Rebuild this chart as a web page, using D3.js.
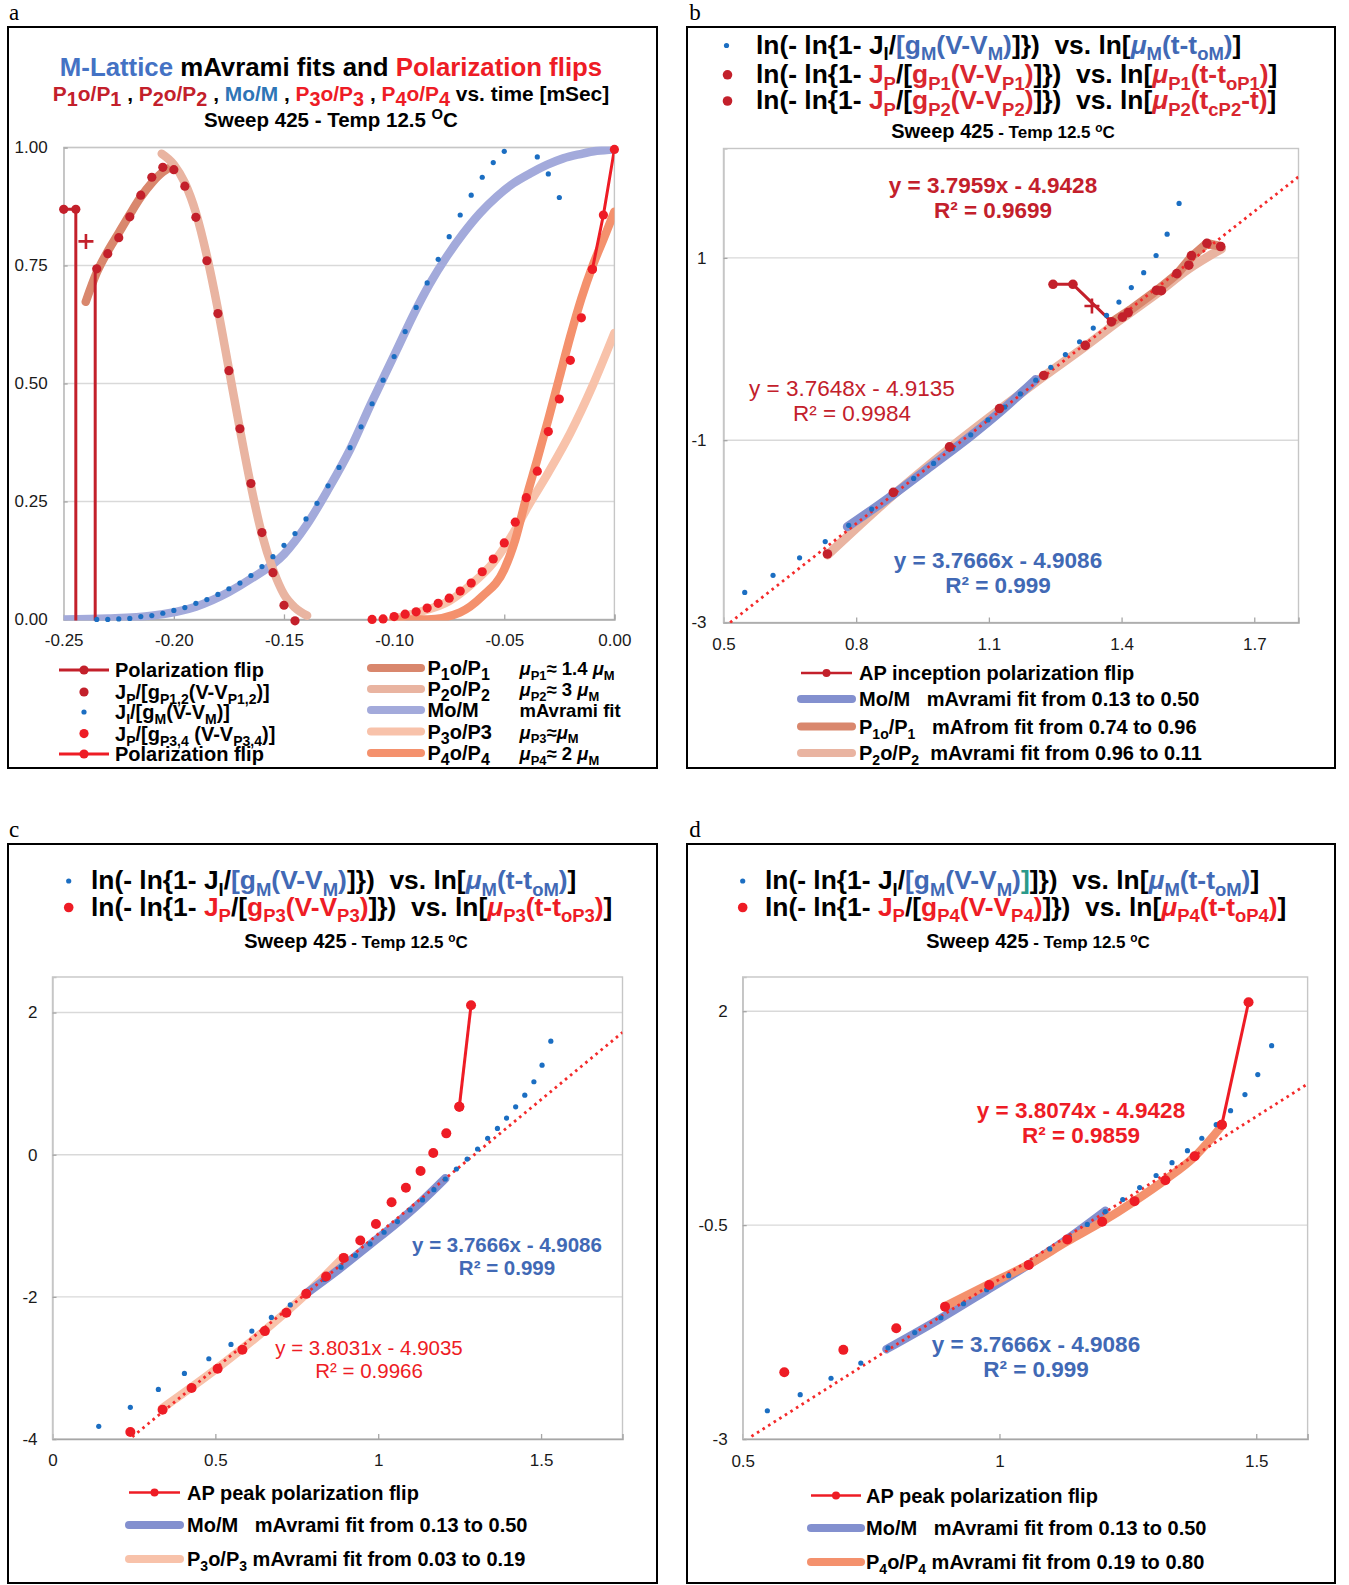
<!DOCTYPE html>
<html><head><meta charset="utf-8">
<script src="https://cdn.jsdelivr.net/npm/d3@7"></script>
<style>body{margin:0;background:#fff}</style>
</head><body>
<script>
// ---------------- DATA ----------------
// Panel a : fraction vs time [mSec]
const aXTicks = [-0.25,-0.20,-0.15,-0.10,-0.05,0.00];
const aXLabels = ['-0.25','-0.20','-0.15','-0.10','-0.05','0.00'];
const aYTicks = [0,0.25,0.5,0.75,1];
const aYLabels = ['0.00','0.25','0.50','0.75','1.00'];
const aBlueDots = [[-0.235,0.000],[-0.230,0.000],[-0.225,0.001],[-0.220,0.002],[-0.215,0.006],[-0.210,0.008],[-0.205,0.013],[-0.200,0.019],[-0.195,0.025],[-0.190,0.034],[-0.185,0.042],[-0.180,0.053],[-0.175,0.065],[-0.170,0.077],[-0.165,0.093],[-0.160,0.112],[-0.155,0.133],[-0.150,0.157],[-0.145,0.182],[-0.140,0.213],[-0.135,0.246],[-0.130,0.283],[-0.125,0.322],[-0.120,0.364],[-0.115,0.408],[-0.110,0.457],[-0.105,0.507],[-0.100,0.557],[-0.095,0.610],[-0.090,0.661],[-0.085,0.713],[-0.080,0.763],[-0.075,0.811],[-0.070,0.857],[-0.065,0.899],[-0.060,0.937],[-0.055,0.968],[-0.050,0.992],[-0.035,0.980],[-0.030,0.944],[-0.025,0.894]];
const aMoFit = [[-0.25,0.000],[-0.23,0.002],[-0.21,0.008],[-0.19,0.027],[-0.175,0.058],[-0.165,0.086],[-0.15,0.138],[-0.14,0.198],[-0.13,0.275],[-0.12,0.360],[-0.11,0.462],[-0.1064,0.497],[-0.0988,0.571],[-0.0913,0.645],[-0.0837,0.712],[-0.0761,0.769],[-0.0686,0.818],[-0.061,0.861],[-0.0534,0.896],[-0.0459,0.924],[-0.0383,0.945],[-0.0307,0.963],[-0.0232,0.977],[-0.0155,0.986],[-0.008,0.993],[0.000,0.996]];
const aP12Dots = [[-0.235,0.743],[-0.230,0.775],[-0.225,0.809],[-0.220,0.853],[-0.215,0.899],[-0.210,0.937],[-0.205,0.958],[-0.200,0.953],[-0.195,0.918],[-0.190,0.852],[-0.185,0.760],[-0.180,0.648],[-0.175,0.527],[-0.170,0.404],[-0.165,0.288],[-0.160,0.184],[-0.155,0.099],[-0.150,0.030],[-0.145,-0.003]];
const aP1Fit = [[-0.240,0.673],[-0.235,0.735],[-0.230,0.780],[-0.225,0.819],[-0.220,0.858],[-0.215,0.895],[-0.210,0.925],[-0.205,0.948],[-0.200,0.962]];
const aP2Fit = [[-0.2055,0.987],[-0.200,0.964],[-0.195,0.925],[-0.190,0.862],[-0.185,0.770],[-0.180,0.657],[-0.175,0.530],[-0.170,0.403],[-0.165,0.283],[-0.160,0.180],[-0.155,0.106],[-0.150,0.053],[-0.145,0.025],[-0.1395,0.008]];
const aP34Dots = [[-0.110,0.000],[-0.105,0.001],[-0.100,0.006],[-0.095,0.011],[-0.090,0.016],[-0.085,0.024],[-0.080,0.034],[-0.075,0.045],[-0.070,0.060],[-0.065,0.077],[-0.060,0.101],[-0.055,0.128],[-0.050,0.162],[-0.045,0.206],[-0.040,0.258],[-0.035,0.314],[-0.030,0.398],[-0.025,0.467],[-0.020,0.549],[-0.015,0.639],[-0.010,0.742]];
const aP3Fit = [[-0.1005,0.000],[-0.090,0.014],[-0.075,0.039],[-0.065,0.074],[-0.055,0.120],[-0.045,0.190],[-0.040,0.233],[-0.030,0.311],[-0.020,0.395],[-0.010,0.494],[0.000,0.607]];
const aP4Fit = [[-0.1005,0.000],[-0.085,0.000],[-0.070,0.015],[-0.060,0.049],[-0.050,0.106],[-0.045,0.169],[-0.040,0.258],[-0.035,0.339],[-0.030,0.424],[-0.025,0.512],[-0.020,0.600],[-0.015,0.680],[-0.010,0.748],[-0.005,0.805],[0.000,0.864]];
const aFlipLeft = [[-0.2500,0.869],[-0.2445,0.869],[-0.2445,-0.01]];
const aFlipLeftMarks = [[-0.2500,0.869],[-0.2445,0.869]];
const aFlipLeft2 = [[-0.2357,-0.01],[-0.2357,0.743]];
const aFlipRight = [[-0.010,0.742],[-0.005,0.857],[0.000,0.996]];
const aPlus = [[-0.2399,0.801]];

// Panels b,c,d : ln(-ln(1-X)) vs ln[mu(t-t0)]
const linBlueDots = [[0.142,-3.822],[0.239,-3.555],[0.325,-3.302],[0.405,-3.077],[0.480,-2.871],[0.548,-2.670],[0.612,-2.482],[0.672,-2.290],[0.730,-2.112],[0.783,-1.934],[0.835,-1.756],[0.886,-1.583],[0.930,-1.419],[0.975,-1.255],[1.018,-1.091],[1.059,-0.941],[1.098,-0.778],[1.136,-0.637],[1.171,-0.492],[1.206,-0.342],[1.240,-0.201],[1.273,-0.061],[1.305,0.080],[1.336,0.230],[1.366,0.370],[1.394,0.515],[1.422,0.674],[1.450,0.838],[1.478,1.026],[1.503,1.260],[1.530,1.597]];
const linMoFit = [[0.780,-1.950],[0.880,-1.610],[0.976,-1.260],[1.060,-0.950],[1.130,-0.670],[1.206,-0.333]];

const bXTicks = [0.5,0.8,1.1,1.4,1.7];
const bXLabels = ['0.5','0.8','1.1','1.4','1.7'];
const bYTicks = [-3,-1,1];
const bYLabels = ['-3','-1','1'];
const bP12Dots = [[0.735,-2.248],[0.884,-1.573],[1.011,-1.073],[1.124,-0.653],[1.224,-0.290],[1.318,0.040],[1.377,0.300],[1.402,0.350],[1.415,0.400],[1.479,0.645],[1.490,0.640],[1.525,0.827],[1.552,0.920],[1.558,1.025],[1.593,1.160],[1.624,1.125]];
const bP2Fit = [[0.735,-2.260],[0.884,-1.600],[1.011,-1.090],[1.124,-0.665],[1.224,-0.300],[1.318,0.030],[1.400,0.330],[1.480,0.610],[1.552,0.880],[1.626,1.100]];
const bP1Fit = [[1.377,0.290],[1.420,0.430],[1.479,0.640],[1.525,0.820],[1.558,1.010],[1.593,1.160],[1.624,1.125]];
const bFlip = [[1.245,0.710],[1.290,0.710],[1.377,0.300]];
const bFlipMarks = [[1.245,0.710],[1.290,0.710]];
const bPlus = [[1.333,0.472]];
const bTrend = [[0.515,-3.000],[1.800,1.890]];

const cXTicks = [0,0.5,1,1.5];
const cXLabels = ['0','0.5','1','1.5'];
const cYTicks = [-4,-2,0,2];
const cYLabels = ['-4','-2','0','2'];
const cP3Dots = [[0.239,-3.902],[0.338,-3.588],[0.427,-3.283],[0.507,-3.012],[0.583,-2.745],[0.652,-2.482],[0.718,-2.225],[0.779,-1.958],[0.840,-1.714],[0.894,-1.452],[0.945,-1.208],[0.993,-0.974],[1.041,-0.670],[1.085,-0.464],[1.130,-0.230],[1.169,0.023],[1.209,0.300],[1.249,0.674]];
const cP3Fit = [[0.336,-3.570],[0.507,-3.000],[0.652,-2.470],[0.779,-1.960],[0.894,-1.440]];
const cFlip = [[1.249,0.674],[1.285,2.103]];
const cTrend = [[0.245,-3.970],[1.750,1.720]];

const dXTicks = [0.5,1,1.5];
const dXLabels = ['0.5','1','1.5'];
const dYTicks = [-3,-0.5,2];
const dYLabels = ['-3','-0.5','2'];
const dP4Dots = [[0.581,-2.219],[0.696,-1.958],[0.799,-1.705],[0.894,-1.453],[0.980,-1.200],[1.057,-0.967],[1.132,-0.667],[1.200,-0.461],[1.263,-0.220],[1.323,0.025],[1.380,0.305],[1.433,0.674]];
const dP4Fit = [[0.894,-1.450],[0.980,-1.190],[1.057,-0.960],[1.132,-0.690],[1.200,-0.460],[1.263,-0.220],[1.323,0.030],[1.380,0.300],[1.433,0.660]];
const dFlip = [[1.433,0.674],[1.485,2.105]];
const dTrend = [[0.517,-2.970],[1.600,1.150]];

// ---------------- STYLE ----------------
const FONT = "'Liberation Sans', Arial, Helvetica, sans-serif";
const DR = '#c3202b', BR = '#ee1c25', BD = '#1b6ec2', TB = '#4169b5';
const C_MO_A = '#a3aadb', C_MO = '#8390cf', C_P1 = '#d9876d', C_P2 = '#e9b4a1', C_P3 = '#f8c2aa', C_P4 = '#f4916d';

const W = 1349, H = 1585;
const svg = d3.select('body').append('svg').attr('width', W).attr('height', H).style('display','block');
svg.append('rect').attr('width', W).attr('height', H).attr('fill', '#fff');

function rich(parent, x, y, segs, o) {
  const size = o.size;
  const t = parent.append('text').attr('x', x).attr('y', y)
    .attr('font-family', FONT).attr('font-size', size)
    .attr('font-weight', o.bold === false ? 'normal' : 'bold')
    .attr('text-anchor', o.anchor || 'start').attr('fill', o.color || '#000')
    .style('white-space', 'pre');
  let off = 0;
  segs.forEach(s => {
    if (typeof s === 'string') s = {t: s};
    const base = s.size || size;
    let target = 0, fs = base;
    if (s.sub) { target = base * 0.26; fs = base * (s.k || 0.7); }
    if (s.sup) { target = -base * 0.38; fs = base * (s.k || 0.62); }
    const ts = t.append('tspan').attr('dy', (target - off).toFixed(2)).attr('font-size', fs).text(s.t);
    off = target;
    if (s.c) ts.attr('fill', s.c);
    if (s.i) ts.attr('font-style', 'italic');
    if (s.w) ts.attr('font-weight', s.w);
  });
  return t;
}

function frame(x0, y0, x1, y1, letter, lx, ly) {
  svg.append('rect').attr('x', x0).attr('y', y0).attr('width', x1 - x0).attr('height', y1 - y0)
    .attr('fill', 'none').attr('stroke', '#000').attr('stroke-width', 2);
  svg.append('text').attr('x', lx).attr('y', ly).attr('font-family', "'Liberation Serif', 'Times New Roman', serif")
    .attr('font-size', 23).attr('text-anchor', 'middle').text(letter);
}

function makePanel(p) {
  const g = svg.append('g');
  const x = d3.scaleLinear().domain(p.xd).range([p.L, p.R]);
  const y = d3.scaleLinear().domain(p.yd).range([p.B, p.T]);
  const cid = 'clip-' + p.name;
  svg.append('clipPath').attr('id', cid).append('rect')
    .attr('x', p.L).attr('y', p.T - 1).attr('width', p.R - p.L).attr('height', p.B - p.T + 2);
  g.selectAll('line.grid').data(p.grid).enter().append('line')
    .attr('x1', p.L).attr('x2', p.R).attr('y1', d => y(d)).attr('y2', d => y(d))
    .attr('stroke', '#d9d9d9').attr('stroke-width', 1.4);
  g.append('rect').attr('x', p.L).attr('y', p.T).attr('width', p.R - p.L).attr('height', p.B - p.T)
    .attr('fill', 'none').attr('stroke', '#c6c6c6').attr('stroke-width', 1.4);
  const ax = g.append('g').attr('transform', `translate(0,${p.B})`)
    .call(d3.axisBottom(x).tickValues(p.xt).tickFormat((d, i) => p.xl[i]).tickSize(-5).tickPadding(p.xpad || 15));
  const ay = g.append('g').attr('transform', `translate(${p.L},0)`)
    .call(d3.axisLeft(y).tickValues(p.yt).tickFormat((d, i) => p.yl[i]).tickSize(-4).tickPadding(p.ypad || 15));
  [ax, ay].forEach(a => {
    a.select('.domain').attr('stroke', '#a6a6a6').attr('stroke-width', 1.5);
    a.selectAll('.tick line').attr('stroke', '#a6a6a6').attr('stroke-width', 1.3);
    a.selectAll('.tick text').attr('font-family', FONT).attr('font-size', 17).attr('fill', '#1a1a1a');
  });
  ay.select('.domain').attr('stroke', '#c6c6c6');
  const plot = g.append('g').attr('clip-path', `url(#${cid})`);
  const over = g.append('g');
  return {x, y, plot, over, g};
}

function band(P, data, color, width, curve) {
  P.plot.append('path').datum(data)
    .attr('d', d3.line().x(d => P.x(d[0])).y(d => P.y(d[1])).curve(curve || d3.curveMonotoneX))
    .attr('fill', 'none').attr('stroke', color).attr('stroke-width', width)
    .attr('stroke-linecap', 'round').attr('stroke-linejoin', 'round');
}
function pline(P, data, color, width) {
  P.plot.append('path').datum(data)
    .attr('d', d3.line().x(d => P.x(d[0])).y(d => P.y(d[1])))
    .attr('fill', 'none').attr('stroke', color).attr('stroke-width', width).attr('stroke-linejoin', 'round');
}
function dotted(P, data) {
  P.plot.append('path').datum(data)
    .attr('d', d3.line().x(d => P.x(d[0])).y(d => P.y(d[1])))
    .attr('fill', 'none').attr('stroke', '#f42a2a').attr('stroke-width', 2.8)
    .attr('stroke-dasharray', '2.6 4');
}
function dots(P, data, color, r, xmin) {
  P.over.selectAll(null).data(data.filter(d => xmin === undefined || d[0] >= xmin)).enter().append('circle')
    .attr('cx', d => P.x(d[0])).attr('cy', d => P.y(d[1])).attr('r', r).attr('fill', color);
}
function plus(P, data, color) {
  data.forEach(d => {
    const cx = P.x(d[0]), cy = P.y(d[1]);
    P.over.append('path').attr('d', `M${cx-7.5},${cy}H${cx+7.5}M${cx},${cy-7.5}V${cy+7.5}`)
      .attr('stroke', color).attr('stroke-width', 2.6);
  });
}
function legLine(g, x1, x2, y, color, w, markR) {
  g.append('line').attr('x1', x1).attr('x2', x2).attr('y1', y).attr('y2', y)
    .attr('stroke', color).attr('stroke-width', w).attr('stroke-linecap', markR ? 'butt' : 'round');
  if (markR) g.append('circle').attr('cx', (x1 + x2) / 2).attr('cy', y).attr('r', markR).attr('fill', color);
}

// ---------------- PANEL A ----------------
frame(8, 27, 657, 768, 'a', 14, 20);
const A = makePanel({name: 'a', xd: [-0.25, 0], yd: [0, 1], L: 63.7, R: 614.4, T: 147.5, B: 619.4,
  xt: aXTicks, xl: aXLabels, yt: aYTicks, yl: aYLabels, grid: [0.25, 0.5, 0.75, 1], xpad: 15, ypad: 16});
band(A, aMoFit, C_MO_A, 8.5);
band(A, aP3Fit, C_P3, 8.5);
band(A, aP4Fit, C_P4, 8.5);
band(A, aP1Fit, C_P1, 8.5);
band(A, aP2Fit, C_P2, 8.5);
pline(A, aFlipLeft, DR, 3);
pline(A, aFlipLeft2, DR, 3);
pline(A, aFlipRight, BR, 3);
dots(A, aBlueDots, BD, 2.6);
dots(A, aP12Dots, DR, 4.6);
dots(A, aFlipLeftMarks, DR, 4.6);
dots(A, aP34Dots, BR, 4.6);
dots(A, aFlipRight, BR, 4.6);
plus(A, aPlus, DR);

rich(svg, 331, 76, [{t: 'M-Lattice', c: '#4472c4'}, {t: ' mAvrami fits and '}, {t: 'Polarization flips', c: BR}], {size: 25.8, anchor: 'middle'});
const S1 = {sub: 1, k: 0.95};
rich(svg, 331, 101, [
  {t: 'P', c: DR}, Object.assign({t: '1', c: DR}, S1), {t: 'o/P', c: DR}, Object.assign({t: '1', c: DR}, S1), ' , ',
  {t: 'P', c: DR}, Object.assign({t: '2', c: DR}, S1), {t: 'o/P', c: DR}, Object.assign({t: '2', c: DR}, S1), ' , ',
  {t: 'Mo/M', c: '#2e75b6'}, ' , ',
  {t: 'P', c: BR}, Object.assign({t: '3', c: BR}, S1), {t: 'o/P', c: BR}, Object.assign({t: '3', c: BR}, S1), ' , ',
  {t: 'P', c: BR}, Object.assign({t: '4', c: BR}, S1), {t: 'o/P', c: BR}, Object.assign({t: '4', c: BR}, S1),
  ' vs. time [mSec]'], {size: 20.9, anchor: 'middle'});
rich(svg, 331, 127, ['Sweep 425 - Temp 12.5 ', {t: 'O', sup: 1, k: 0.72}, 'C'], {size: 20.5, anchor: 'middle'});

// legend a
const La = svg.append('g');
const laY = [670, 692, 712, 733.6, 754];
legLine(La, 59, 109, laY[0], DR, 3, 4.6);
La.append('circle').attr('cx', 84).attr('cy', laY[1]).attr('r', 4.6).attr('fill', DR);
La.append('circle').attr('cx', 84).attr('cy', laY[2]).attr('r', 2.6).attr('fill', BD);
La.append('circle').attr('cx', 84).attr('cy', laY[3]).attr('r', 4.6).attr('fill', BR);
legLine(La, 59, 109, laY[4], BR, 3, 4.6);
rich(La, 115, laY[0] + 7, ['Polarization flip'], {size: 20});
rich(La, 115, laY[1] + 7, ['J', {t: 'P', sub: 1}, '/[g', {t: 'P1,2', sub: 1}, '(V-V', {t: 'P1,2', sub: 1}, ')]'], {size: 20});
rich(La, 115, laY[2] + 7, ['J', {t: 'I', sub: 1}, '/[g', {t: 'M', sub: 1}, '(V-V', {t: 'M', sub: 1}, ')]'], {size: 20});
rich(La, 115, laY[3] + 7, ['J', {t: 'P', sub: 1}, '/[g', {t: 'P3,4', sub: 1}, ' (V-V', {t: 'P3,4', sub: 1}, ')]'], {size: 20});
rich(La, 115, laY[4] + 7, ['Polarization flip'], {size: 20});
const lrY = [668, 689, 710, 731.6, 753];
const lrC = [C_P1, C_P2, C_MO_A, C_P3, C_P4];
lrC.forEach((c, i) => legLine(La, 371, 421, lrY[i], c, 8));
const S2 = {sub: 1, k: 0.8};
rich(La, 427.5, lrY[0] + 7, ['P', Object.assign({t: '1'}, S2), 'o/P', Object.assign({t: '1'}, S2)], {size: 20});
rich(La, 427.5, lrY[1] + 7, ['P', Object.assign({t: '2'}, S2), 'o/P', Object.assign({t: '2'}, S2)], {size: 20});
rich(La, 427.5, lrY[2] + 7, ['Mo/M'], {size: 20});
rich(La, 427.5, lrY[3] + 7, ['P', Object.assign({t: '3'}, S2), 'o/P3'], {size: 20});
rich(La, 427.5, lrY[4] + 7, ['P', Object.assign({t: '4'}, S2), 'o/P', Object.assign({t: '4'}, S2)], {size: 20});
const MU = {t: 'μ', i: 1};
rich(La, 519.5, lrY[0] + 7, [MU, {t: 'P1', sub: 1}, '≈ 1.4 ', MU, {t: 'M', sub: 1}], {size: 18.5});
rich(La, 519.5, lrY[1] + 7, [MU, {t: 'P2', sub: 1}, '≈ 3 ', MU, {t: 'M', sub: 1}], {size: 18.5});
rich(La, 519.5, lrY[2] + 7, ['mAvrami fit'], {size: 18.5});
rich(La, 519.5, lrY[3] + 7, [MU, {t: 'P3', sub: 1}, '≈', MU, {t: 'M', sub: 1}], {size: 18.5});
rich(La, 519.5, lrY[4] + 7, [MU, {t: 'P4', sub: 1}, '≈ 2 ', MU, {t: 'M', sub: 1}], {size: 18.5});

// ---------------- shared title helpers ----------------
const TS = 26.4;
function titleBlue(g, x, y, extra) {
  const segs = ['ln(- ln{1- J', {t: 'I', sub: 1}, '/', {t: '[g', c: TB}, {t: 'M', sub: 1, c: TB}, {t: '(V-V', c: TB}, {t: 'M', sub: 1, c: TB}, {t: ')', c: TB}];
  if (extra) segs.push({t: ']', c: '#2a9a8a'});
  return rich(g, x, y, segs.concat([']})  vs. ln[',
    {t: 'μ', i: 1, c: TB}, {t: 'M', sub: 1, c: TB}, {t: '(t-t', c: TB}, {t: 'oM', sub: 1, c: TB}, {t: ')', c: TB}, ']']), {size: TS});
}
function titleRed(g, x, y, P, col, endSegs) {
  return rich(g, x, y, ['ln(- ln{1- ', {t: 'J', c: col}, {t: 'P', sub: 1, c: col}, '/[', {t: 'g', c: col}, {t: P, sub: 1, c: col}, {t: '(V-V', c: col}, {t: P, sub: 1, c: col}, {t: ')', c: col}, ']})  vs. ln[',
    {t: 'μ', i: 1, c: col}, {t: P, sub: 1, c: col}].concat(endSegs).concat([']']), {size: TS});
}
function sweep(g, x, y) {
  rich(g, x, y, [{t: 'Sweep 425', size: 20}, {t: ' - Temp 12.5 ', size: 17}, {t: 'o', sup: 1, size: 17, k: 0.7}, {t: 'C', size: 17}], {size: 17, anchor: 'middle'});
}
function eq(g, x, y, l1, l2, color, bold, size) {
  g.append('text').attr('x', x).attr('y', y).attr('text-anchor', 'middle').attr('font-family', FONT)
    .attr('font-size', size).attr('font-weight', bold ? 'bold' : 'normal').attr('fill', color).text(l1);
  g.append('text').attr('x', x).attr('y', y + size * 1.12).attr('text-anchor', 'middle').attr('font-family', FONT)
    .attr('font-size', size).attr('font-weight', bold ? 'bold' : 'normal').attr('fill', color).text(l2);
}

// ---------------- PANEL B ----------------
frame(687, 27, 1335, 768, 'b', 695, 20);
const B = makePanel({name: 'b', xd: [0.5, 1.8], yd: [-3, 2.2], L: 723.5, R: 1298.5, T: 148.5, B: 622.5,
  xt: bXTicks, xl: bXLabels, yt: bYTicks, yl: bYLabels, grid: [-1, 1], xpad: 15, ypad: 17});
band(B, bP2Fit, C_P2, 9);
band(B, linMoFit, C_MO, 9);
band(B, bP1Fit, C_P1, 9, d3.curveLinear);
dotted(B, bTrend);
pline(B, bFlip, DR, 3);
dots(B, linBlueDots, BD, 2.6, 0.5);
dots(B, bP12Dots, DR, 4.8);
dots(B, bFlipMarks, DR, 4.8);
plus(B, bPlus, DR);
eq(svg, 993, 193, 'y = 3.7959x - 4.9428', 'R² = 0.9699', DR, true, 22.5);
eq(svg, 852, 396, 'y = 3.7648x - 4.9135', 'R² = 0.9984', DR, false, 22.5);
eq(svg, 998, 568, 'y = 3.7666x - 4.9086', 'R² = 0.999', TB, true, 22.5);
svg.append('circle').attr('cx', 726.5).attr('cy', 45.5).attr('r', 2.6).attr('fill', BD);
svg.append('circle').attr('cx', 727.5).attr('cy', 74.8).attr('r', 4.8).attr('fill', DR);
svg.append('circle').attr('cx', 727.5).attr('cy', 101).attr('r', 4.8).attr('fill', DR);
const RB = '#d9262e';
titleBlue(svg, 756, 53.5, false);
titleRed(svg, 756, 83, 'P1', RB, [{t: '(t-t', c: RB}, {t: 'oP1', sub: 1, c: RB}, {t: ')', c: RB}]);
titleRed(svg, 756, 109, 'P2', RB, [{t: '(t', c: RB}, {t: 'cP2', sub: 1, c: RB}, {t: '-t)', c: RB}]);
sweep(svg, 1003, 138);
const Lb = svg.append('g');
const lbY = [673, 699, 726.5, 753];
legLine(Lb, 801, 852, lbY[0], DR, 2.5, 4);
legLine(Lb, 801, 852, lbY[1], C_MO, 8);
legLine(Lb, 801, 852, lbY[2], C_P1, 8);
legLine(Lb, 801, 852, lbY[3], C_P2, 8);
rich(Lb, 859, lbY[0] + 7, ['AP inception polarization flip'], {size: 20});
rich(Lb, 859, lbY[1] + 7, ['Mo/M   mAvrami fit from 0.13 to 0.50'], {size: 20});
rich(Lb, 859, lbY[2] + 7, ['P', {t: '1o', sub: 1}, '/P', {t: '1', sub: 1}, '   mAfrom fit from 0.74 to 0.96'], {size: 20});
rich(Lb, 859, lbY[3] + 7, ['P', {t: '2', sub: 1}, 'o/P', {t: '2', sub: 1}, '  mAvrami fit from 0.96 to 0.11'], {size: 20});

// ---------------- PANEL C ----------------
frame(8, 844, 657, 1583, 'c', 14, 837);
const C = makePanel({name: 'c', xd: [0, 1.75], yd: [-4, 2.5], L: 52.5, R: 622.5, T: 977, B: 1439,
  xt: cXTicks, xl: cXLabels, yt: cYTicks, yl: cYLabels, grid: [0, 2, -2], xpad: 15, ypad: 15});
band(C, cP3Fit, C_P3, 8.5);
band(C, linMoFit, C_MO, 8.5);
dotted(C, cTrend);
dots(C, linBlueDots, BD, 2.6);
dots(C, cP3Dots, BR, 5);
pline(C, cFlip, BR, 3);
dots(C, cFlip, BR, 5);
eq(svg, 507, 1252, 'y = 3.7666x - 4.9086', 'R² = 0.999', TB, true, 20.5);
eq(svg, 369, 1355, 'y = 3.8031x - 4.9035', 'R² = 0.9966', BR, false, 20.5);
svg.append('circle').attr('cx', 68.7).attr('cy', 881).attr('r', 2.6).attr('fill', BD);
svg.append('circle').attr('cx', 68.7).attr('cy', 907.5).attr('r', 4.8).attr('fill', BR);
titleBlue(svg, 91, 889, false);
titleRed(svg, 91, 915.5, 'P3', BR, [{t: '(t-t', c: BR}, {t: 'oP3', sub: 1, c: BR}, {t: ')', c: BR}]);
sweep(svg, 356, 948);
const Lc = svg.append('g');
const lcY = [1492.5, 1525, 1559];
legLine(Lc, 129, 180, lcY[0], BR, 2.5, 4);
legLine(Lc, 129, 180, lcY[1], C_MO, 8);
legLine(Lc, 129, 180, lcY[2], C_P3, 8);
rich(Lc, 187, lcY[0] + 7, ['AP peak polarization flip'], {size: 20});
rich(Lc, 187, lcY[1] + 7, ['Mo/M   mAvrami fit from 0.13 to 0.50'], {size: 20});
rich(Lc, 187, lcY[2] + 7, ['P', {t: '3', sub: 1}, 'o/P', {t: '3', sub: 1}, ' mAvrami fit from 0.03 to 0.19'], {size: 20});

// ---------------- PANEL D ----------------
frame(687, 844, 1335, 1583, 'd', 695, 837);
const D = makePanel({name: 'd', xd: [0.5, 1.6], yd: [-3, 2.4], L: 742.7, R: 1307.6, T: 977, B: 1439,
  xt: dXTicks, xl: dXLabels, yt: dYTicks, yl: dYLabels, grid: [2, -0.5], xpad: 16, ypad: 15});
band(D, linMoFit, C_MO, 8.5);
band(D, dP4Fit, C_P4, 8.5);
dotted(D, dTrend);
dots(D, linBlueDots, BD, 2.6, 0.5);
dots(D, dP4Dots, BR, 5);
pline(D, dFlip, BR, 3);
dots(D, dFlip, BR, 5);
eq(svg, 1081, 1118, 'y = 3.8074x - 4.9428', 'R² = 0.9859', BR, true, 22.5);
eq(svg, 1036, 1352, 'y = 3.7666x - 4.9086', 'R² = 0.999', TB, true, 22.5);
svg.append('circle').attr('cx', 742.7).attr('cy', 881).attr('r', 2.6).attr('fill', BD);
svg.append('circle').attr('cx', 742.7).attr('cy', 907.5).attr('r', 4.8).attr('fill', BR);
titleBlue(svg, 765, 889, true);
titleRed(svg, 765, 915.5, 'P4', BR, [{t: '(t-t', c: BR}, {t: 'oP4', sub: 1, c: BR}, {t: ')', c: BR}]);
sweep(svg, 1038, 948);
const Ld = svg.append('g');
const ldY = [1495.5, 1528, 1562];
legLine(Ld, 811, 861, ldY[0], BR, 2.5, 4);
legLine(Ld, 811, 861, ldY[1], C_MO, 8);
legLine(Ld, 811, 861, ldY[2], C_P4, 8);
rich(Ld, 866, ldY[0] + 7, ['AP peak polarization flip'], {size: 20});
rich(Ld, 866, ldY[1] + 7, ['Mo/M   mAvrami fit from 0.13 to 0.50'], {size: 20});
rich(Ld, 866, ldY[2] + 7, ['P', {t: '4', sub: 1}, 'o/P', {t: '4', sub: 1}, ' mAvrami fit from 0.19 to 0.80'], {size: 20});
</script>
</body></html>
